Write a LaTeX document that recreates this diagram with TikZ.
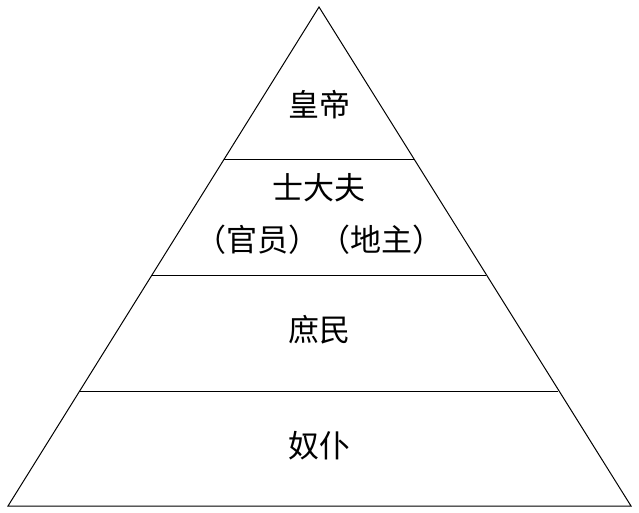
\documentclass[tikz,border=0pt]{standalone}
\usepackage{fontspec}
\newfontfamily\cjk{Noto Sans CJK SC}
\begin{document}
\begin{tikzpicture}[x=1pt,y=-1pt,lbl/.style={font=\cjk\fontsize{31}{36}\selectfont,inner sep=0pt},ln/.style={line width=1pt}]
\useasboundingbox (0,0) rectangle (639,513);
\coordinate (A) at (319,7);
\coordinate (L) at (8,506);
\coordinate (R) at (631,506);
\draw[ln,line join=miter] (A) -- (L) -- (R) -- cycle;
\foreach \y/\dx/\n in {160/95.35/a,275/166.98/b,391/239.3/c}{
  \coordinate (\n l) at ({319-\dx},\y);
  \coordinate (\n r) at ({319+\dx},\y);
  \draw[ln] (\n l) -- (\n r);
}
\node[lbl] (t1) at (319,105) {皇帝};
\node[lbl] (t2) at (319,188) {士大夫};
\node[lbl] (t3) at (319,240) {（官员）（地主）};
\node[lbl] (t4) at (319,330) {庶民};
\node[lbl] (t5) at (319,446) {奴仆};
\end{tikzpicture}
\end{document}
